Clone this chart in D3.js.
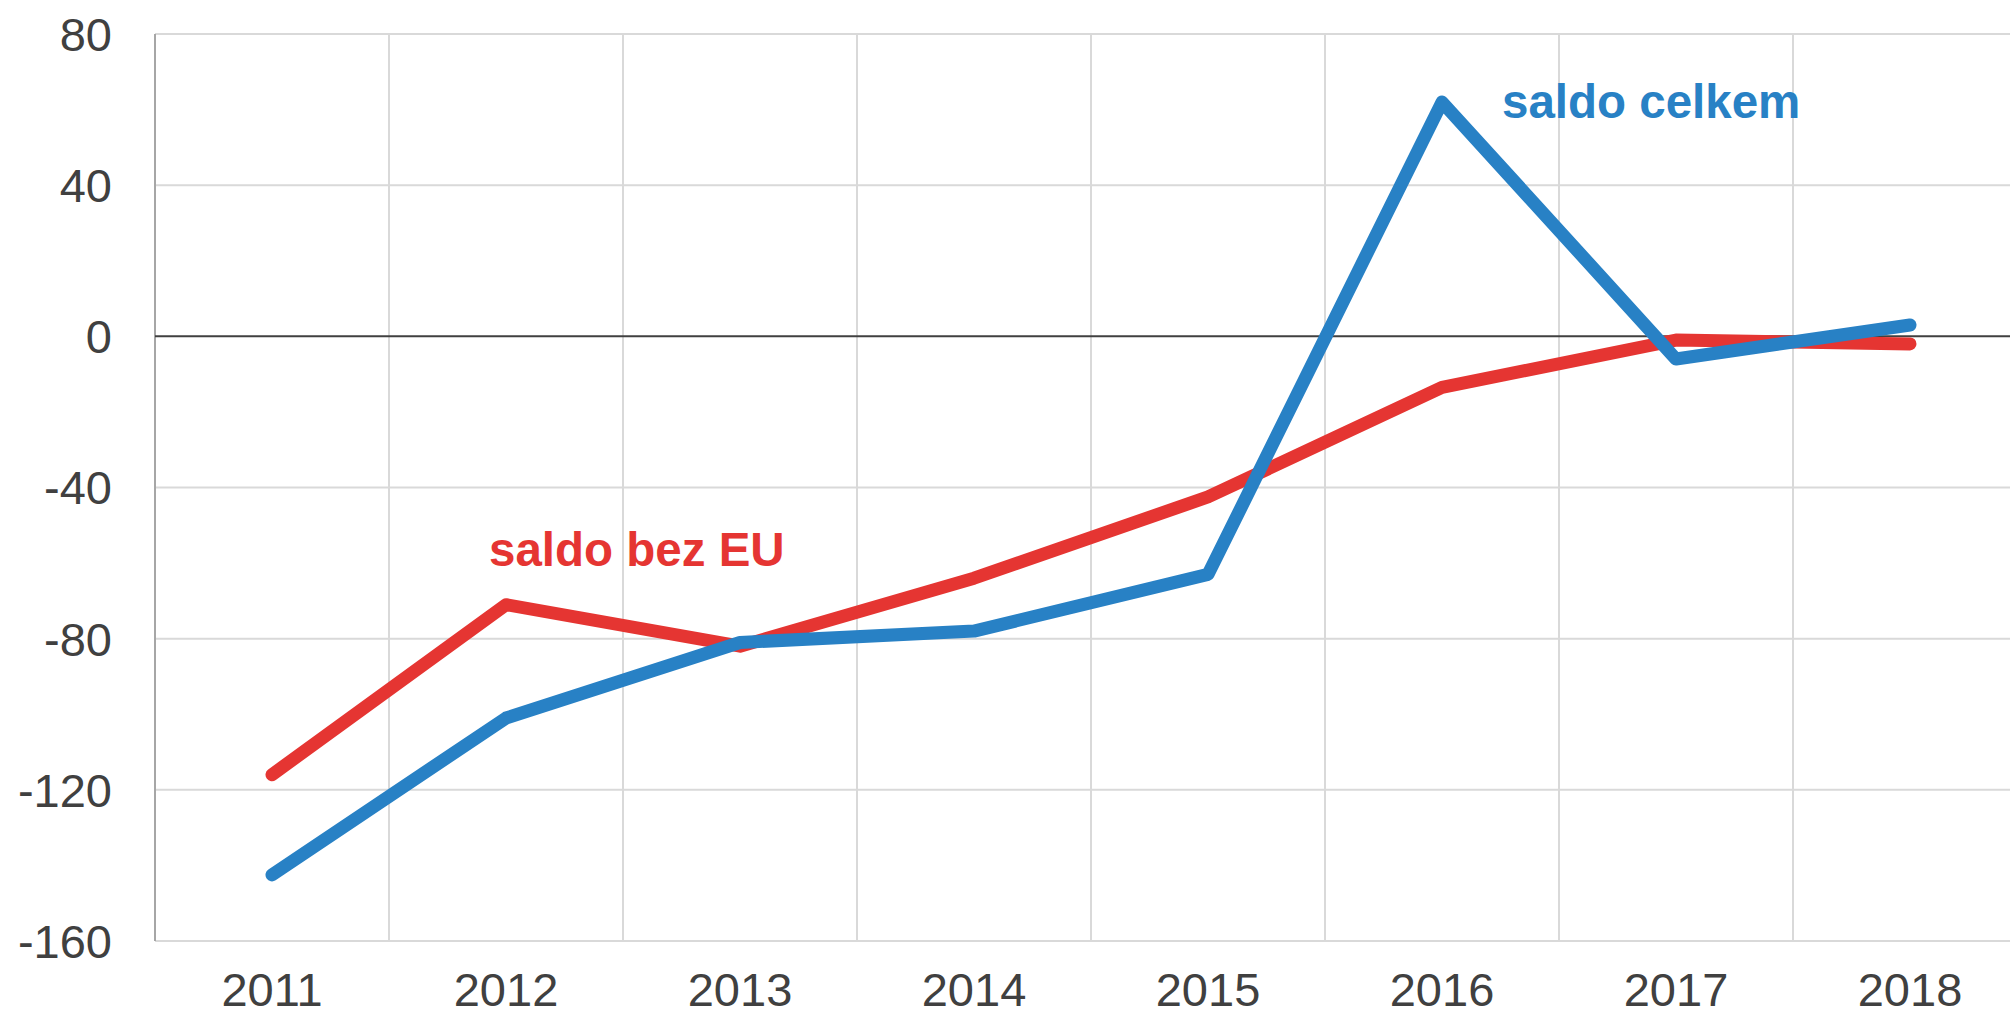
<!DOCTYPE html>
<html>
<head>
<meta charset="utf-8">
<script src="https://cdn.jsdelivr.net/npm/d3@7"></script>
<style>
  body { margin: 0; background: #fff; }
  svg { display: block; }
</style>
</head>
<body>
<svg id="chart" width="2010" height="1017"></svg>
<script>
// data
var years = ["2011", "2012", "2013", "2014", "2015", "2016", "2017", "2018"];
var saldoCelkem = [-142.5, -101, -81, -78, -63, 62, -6, 3];
var saldoBezEU = [-116, -71, -82, -64, -42.5, -13.5, -1, -2];
var yTicks = [80, 40, 0, -40, -80, -120, -160];

var svg = d3.select("#chart");

var plotLeft = 155, plotTop = 34, plotBottom = 941;
var band = 234;

var x = d3.scaleBand()
    .domain(years)
    .range([plotLeft, plotLeft + band * years.length]);

var y = d3.scaleLinear()
    .domain([-160, 80])
    .range([plotBottom, plotTop]);

// horizontal grid
svg.append("g")
    .selectAll("line")
    .data(yTicks.filter(d => d !== 0))
    .enter().append("line")
    .attr("x1", plotLeft).attr("x2", 2010)
    .attr("y1", d => y(d)).attr("y2", d => y(d))
    .attr("stroke", "#d9d9d9")
    .attr("stroke-width", 2);

// vertical grid at band edges
svg.append("g")
    .selectAll("line")
    .data(years.slice(1))
    .enter().append("line")
    .attr("x1", d => x(d)).attr("x2", d => x(d))
    .attr("y1", plotTop).attr("y2", plotBottom)
    .attr("stroke", "#d9d9d9")
    .attr("stroke-width", 2);

// left axis line
svg.append("line")
    .attr("x1", plotLeft).attr("x2", plotLeft)
    .attr("y1", plotTop).attr("y2", plotBottom)
    .attr("stroke", "#a6a6a6")
    .attr("stroke-width", 2);

// zero line
svg.append("line")
    .attr("x1", plotLeft).attr("x2", 2010)
    .attr("y1", y(0)).attr("y2", y(0))
    .attr("stroke", "#404040")
    .attr("stroke-width", 2);

// y labels
svg.append("g")
    .selectAll("text")
    .data(yTicks)
    .enter().append("text")
    .attr("x", 112)
    .attr("y", d => y(d))
    .attr("dy", "0.36em")
    .attr("text-anchor", "end")
    .attr("font-family", "Liberation Sans, Arial, sans-serif")
    .attr("font-size", 47)
    .attr("fill", "#404040")
    .text(d => d);

// x labels
svg.append("g")
    .selectAll("text")
    .data(years)
    .enter().append("text")
    .attr("x", d => x(d) + x.bandwidth() / 2)
    .attr("y", 1006)
    .attr("text-anchor", "middle")
    .attr("font-family", "Liberation Sans, Arial, sans-serif")
    .attr("font-size", 47)
    .attr("fill", "#404040")
    .text(d => d);

var line = d3.line()
    .x((d, i) => x(years[i]) + x.bandwidth() / 2)
    .y(d => y(d));

svg.append("path")
    .datum(saldoBezEU)
    .attr("d", line)
    .attr("fill", "none")
    .attr("stroke", "#e53532")
    .attr("stroke-width", 13)
    .attr("stroke-linecap", "round")
    .attr("stroke-linejoin", "round");

svg.append("path")
    .datum(saldoCelkem)
    .attr("d", line)
    .attr("fill", "none")
    .attr("stroke", "#2881c5")
    .attr("stroke-width", 13)
    .attr("stroke-linecap", "round")
    .attr("stroke-linejoin", "round");

// series labels
svg.append("text")
    .attr("x", 1502).attr("y", 118)
    .attr("font-family", "Liberation Sans, Arial, sans-serif")
    .attr("font-size", 47.5)
    .attr("font-weight", "bold")
    .attr("fill", "#2881c5")
    .text("saldo celkem");

svg.append("text")
    .attr("x", 489).attr("y", 566)
    .attr("font-family", "Liberation Sans, Arial, sans-serif")
    .attr("font-size", 47.5)
    .attr("font-weight", "bold")
    .attr("fill", "#e53532")
    .text("saldo bez EU");
</script>
</body>
</html>
